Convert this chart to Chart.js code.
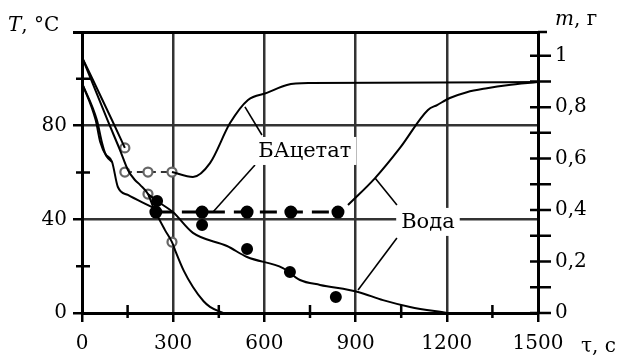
<!DOCTYPE html>
<html>
<head>
<meta charset="utf-8">
<script src="https://cdn.jsdelivr.net/npm/chart.js@4.4.1/dist/chart.umd.min.js"></script>
<style>
  html, body { margin: 0; padding: 0; background: #fff; }
  canvas { display: block; }
</style>
</head>
<body>
<canvas id="coolingChart" width="627" height="358"></canvas>
<script>
// tick values
const xTicks = [0, 300, 600, 900, 1200, 1500];
const xMinorTicks = [150, 450, 750, 1050, 1350];
const tTicks = [0, 40, 80, 120];
const tMinorTicks = [20, 60, 100];
const mTicks = [0, 0.1, 0.2, 0.3, 0.4, 0.5, 0.6, 0.7, 0.8, 0.9, 1.0];

// curves: [time s, T °C]
const baCoolA = [[0, 109.3], [100, 82], [141, 70.5]];
const baCoolB = [[0, 109.3], [85, 82], [125, 69.6], [151, 61.1], [174, 56.8], [191, 54.7], [217, 50.8],
  [234, 45.3], [273, 35.4], [296, 30.3], [306, 26.9], [335, 18], [365, 11.1], [400, 5], [421, 2.6], [464, 0]];
const waterCoolA = [[0, 98.2], [49, 82.4], [66, 72.6], [76, 68.3], [99, 64.5], [118, 53.8], [151, 50.4], [217, 46.1], [250, 44]];
const waterCoolB = [[0, 98.2], [45, 82.4], [60, 73], [80, 67], [99, 64.5]];
const waterCoolC = [[217, 50.8], [247, 47.8], [299, 43.1], [365, 34.2], [477, 28.6], [543, 23.9], [661, 19.2],
  [717, 14.1], [783, 12], [908, 9], [990, 5.5], [1079, 2.6], [1200, 0]];
const baRise = [[296, 60.2], [365, 58.1], [421, 64], [487, 81.1], [546, 91], [608, 94], [674, 97.4], [750, 98.2], [1500, 98.6]];
const waterRise = [[875, 46.1], [964, 57.6], [1046, 70.5], [1138, 86.7], [1168, 88.8], [1210, 91.8], [1266, 94.3],
  [1332, 96], [1398, 97.3], [1500, 98.6]];

// experimental points
const baPlateau = [[141, 60.2], [217, 60.2], [296, 60.2]];
const baPoints = [[141, 70.5], [217, 50.8], [296, 30.3]];
const waterPlateau = [[243, 43.1], [395, 43.1], [543, 43.1], [687, 43.1], [842, 43.1]];
const waterPoints = [[247, 47.8], [395, 37.6], [543, 27.3], [684, 17.5], [835, 6.8]];

// leader lines and captions
const leaders = [
  [[536, 88], [592, 76]],
  [[569, 63.2], [431, 43.1]],
  [[1036, 46.1], [964, 57.6]],
  [[1036, 32], [908, 9.8]]
];
const captions = ['БАцетат', 'Вода'];
const captionAt = [[733, 69.2], [1138, 38.9]];

// the canvas only picks up DejaVu Serif by name in this setup
const FONT = "'DejaVu Serif', serif";
const FS = 20;
const toXY = arr => arr.map(([x, y]) => ({ x, y }));

const curve = (pts, extra = {}) => Object.assign({
  type: 'line', data: toXY(pts), borderColor: '#000', borderWidth: 2,
  pointRadius: 0, cubicInterpolationMode: 'monotone', yAxisID: 'y'
}, extra);

const datasets = [
  curve(baCoolA),
  curve(baCoolB),
  curve(waterCoolA),
  curve(waterCoolB),
  curve(waterCoolC),
  curve(baRise),
  curve(waterRise),
  curve(waterPlateau, { borderDash: [17, 9], borderWidth: 3, cubicInterpolationMode: 'default',
    pointRadius: 5, pointBackgroundColor: '#000', pointBorderColor: '#000' }),
  curve(waterPoints, { showLine: false, pointRadius: 5, pointBackgroundColor: '#000', pointBorderColor: '#000' }),
  curve(baPlateau, { borderDash: [7, 5], borderColor: '#333', cubicInterpolationMode: 'default',
    pointRadius: 4.5, pointBackgroundColor: '#fff', pointBorderColor: '#666', pointBorderWidth: 2.2 }),
  curve(baPoints, { showLine: false, pointRadius: 4.5, pointBackgroundColor: '#fff', pointBorderColor: '#666', pointBorderWidth: 2.2 })
];
leaders.forEach(l => datasets.push(curve(l, { borderWidth: 1.6, cubicInterpolationMode: 'default' })));

const extras = {
  id: 'extras',
  afterDatasetsDraw(chart) {
    const { ctx, scales: { x, y } } = chart;
    ctx.save();
    ctx.font = `21px ${FONT}`;
    ctx.textAlign = 'center';
    ctx.textBaseline = 'middle';
    captions.forEach((text, i) => {
      const px = x.getPixelForValue(captionAt[i][0]);
      const py = y.getPixelForValue(captionAt[i][1]);
      const w = ctx.measureText(text).width;
      ctx.fillStyle = '#fff';
      ctx.fillRect(px - w / 2 - 5, py - 14, w + 10, 28);
      ctx.fillStyle = '#000';
      ctx.fillText(text, px, py + 1);
    });
    ctx.restore();
  },
  afterDraw(chart) {
    const { ctx, chartArea: area, scales: { x, y, y2 } } = chart;
    ctx.save();
    ctx.strokeStyle = '#000';
    ctx.lineWidth = 2.5;
    ctx.beginPath();
    xMinorTicks.forEach(v => {
      const px = x.getPixelForValue(v);
      ctx.moveTo(px, area.bottom - 8); ctx.lineTo(px, area.bottom + 5);
    });
    tMinorTicks.forEach(v => {
      const py = y.getPixelForValue(v);
      ctx.moveTo(area.left - 6, py); ctx.lineTo(area.left + 8, py);
    });
    mTicks.forEach(v => {
      const py = y2.getPixelForValue(v);
      ctx.moveTo(area.right - 8, py); ctx.lineTo(area.right + 13, py);
    });
    ctx.moveTo(area.right, area.top); ctx.lineTo(area.right + 9, area.top);
    ctx.stroke();

    ctx.fillStyle = '#000';
    ctx.textBaseline = 'alphabetic';
    ctx.textAlign = 'left';
    const axisTitle = (italic, rest, left, base) => {
      ctx.font = `italic ${FS}px ${FONT}`;
      ctx.fillText(italic, left, base);
      const w = ctx.measureText(italic).width;
      ctx.font = `${FS}px ${FONT}`;
      ctx.fillText(rest, left + w, base);
    };
    axisTitle('T', ', °C', 8, 31);
    axisTitle('m', ', г', 555, 25);
    ctx.font = `${FS}px ${FONT}`;
    ctx.fillText('τ, c', 581, 352);
    ctx.restore();
  }
};

const setTicks = vals => s => { s.ticks = vals.map(value => ({ value })); };

new Chart(document.getElementById('coolingChart'), {
  type: 'line',
  data: { datasets },
  options: {
    responsive: false,
    animation: false,
    layout: { padding: { top: 32, left: 0, right: 0, bottom: 0 } },
    plugins: { legend: { display: false }, tooltip: { enabled: false } },
    scales: {
      x: {
        type: 'linear', min: 0, max: 1500,
        afterBuildTicks: setTicks(xTicks),
        afterFit(s) { s.height = 45; },
        ticks: { maxRotation: 0, autoSkip: false, padding: 10, color: '#000', font: { family: FONT, size: FS },
          callback: v => String(v) },
        grid: { color: '#333', lineWidth: 2.5, tickLength: 9, tickColor: '#000' },
        border: { color: '#000', width: 3 }
      },
      y: {
        min: 0, max: 120,
        afterBuildTicks: setTicks(tTicks),
        afterFit(s) { s.width = 82; },
        ticks: {
          padding: 6, color: '#000', font: { family: FONT, size: FS },
          callback: v => v < 120 ? String(v) : ''
        },
        grid: {
          color: c => c.tick.value === 120 ? '#000' : '#333',
          lineWidth: c => c.tick.value === 120 ? 3 : 2.5,
          tickColor: '#000',
          tickLength: 9
        },
        border: { color: '#000', width: 3 }
      },
      y2: {
        position: 'right', min: 0, max: 1.092,
        afterBuildTicks: setTicks(mTicks.filter((v, i) => i % 2 === 0)),
        afterFit(s) { s.width = 89; },
        ticks: {
          padding: 17, color: '#000', font: { family: FONT, size: FS },
          callback: v => {
            const k = Math.round(v * 10);
            return k === 10 ? '1' : (k === 0 ? '0' : '0,' + k);
          }
        },
        grid: { drawOnChartArea: false, drawTicks: false, color: 'transparent' },
        border: { color: '#000', width: 3 }
      }
    }
  },
  plugins: [extras]
});
</script>
</body>
</html>
